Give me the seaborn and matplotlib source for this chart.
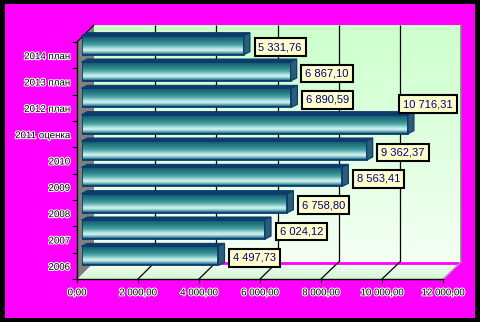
import numpy as np
import pandas as pd
import matplotlib
matplotlib.use("Agg")
import matplotlib.pyplot as plt
import seaborn as sns
from matplotlib.patches import Polygon, Rectangle
from matplotlib.lines import Line2D
from matplotlib.colors import LinearSegmentedColormap
from matplotlib.transforms import IdentityTransform
import matplotlib.patheffects as pe

categories = ["2014 план", "2013 план", "2012 план", "2011 оценка", "2010",
              "2009", "2008", "2007", "2006"]
values = [5331.76, 6867.10, 6890.59, 10716.31, 9362.37, 8563.41, 6758.80, 6024.12, 4497.73]
x_ticks = [0, 2000, 4000, 6000, 8000, 10000, 12000]
x_max = 12000


def fmt(v):
    return f"{v:,.2f}".replace(",", " ").replace(".", ",")


sns.set_style("white")
plt.rcParams['font.family'] = ['Liberation Sans', 'DejaVu Sans']

W, H = 480, 322
DPI = 100
fig = plt.figure(figsize=(W / DPI, H / DPI), dpi=DPI)
fig.patch.set_facecolor('black')


def fx(px):
    return px / W


def fy(py):
    return (H - py) / H


fig.add_artist(Rectangle((fx(5), fy(318)), fx(470), 314 / H, transform=fig.transFigure,
                         facecolor='#FF00FF', edgecolor='none', zorder=-10))

n = len(categories)
ylim = (n - 0.5, -0.5)
grad = np.linspace(0, 1, 256).reshape(-1, 1)

# ---- back wall ----
BL, BT, BR, BB = 94, 25, 461, 262
ax_back = fig.add_axes([fx(BL), fy(BB), fx(BR - BL), (BB - BT) / H], zorder=1)
wall_cmap = LinearSegmentedColormap.from_list('wall', ['#CCFFCC', '#F4FFF4'])
ax_back.imshow(grad, extent=[0, x_max, ylim[0], ylim[1]], origin='upper', aspect='auto',
               cmap=wall_cmap, interpolation='bilinear')
ax_back.set_xlim(0, x_max)
ax_back.set_ylim(ylim)
ax_back.vlines(x_ticks[1:-1], ylim[1], ylim[0], colors='black', linewidth=0.9)
ax_back.set_xticks([])
ax_back.set_yticks([])
for s in ['top', 'left', 'bottom']:
    ax_back.spines[s].set_visible(False)
ax_back.spines['right'].set_color('#808080')
ax_back.spines['right'].set_linewidth(1.2)

# ---- front plane (axis, ticks, labels) ----
FL, FT, FR, FB = 77, 42, 443, 279
ax_front = fig.add_axes([fx(FL), fy(FB), fx(FR - FL), (FB - FT) / H], zorder=3)
ax_front.patch.set_alpha(0)
ax_front.set_xlim(0, x_max)
ax_front.set_ylim(ylim)

# ---- floor ----
depth_x = BL - FL
ax_floor = fig.add_axes([fx(FL), fy(FB), fx(BR - FL), (FB - BB) / H], zorder=1.2)
ax_floor.axis('off')
ax_floor.set_xlim(0, 1)
ax_floor.set_ylim(0, 1)
floor_cmap = LinearSegmentedColormap.from_list('floor', ['#FAFFFA', '#D2F6D2'])
fim = ax_floor.imshow(grad, extent=[0, 1, 0, 1], origin='upper', aspect='auto',
                      cmap=floor_cmap, interpolation='bilinear')
fr = depth_x / (BR - FL)
fpoly = Polygon([(0, 0), (fr, 1), (1, 1), (1 - fr, 0)], closed=True, transform=ax_floor.transData,
                facecolor='none', edgecolor='none')
ax_floor.add_patch(fpoly)
fim.set_clip_path(fpoly)

# magenta back edge of the floor
fig.add_artist(Line2D([fx(BL), fx(BR)], [fy(BB + 0.5), fy(BB + 0.5)], transform=fig.transFigure,
                      color='#FF00FF', linewidth=2.0, zorder=1.25, solid_capstyle='butt'))

# diagonal floor lines
for t in x_ticks[1:]:
    p_front = ax_front.transData.transform((t, ylim[0]))
    p_back = ax_back.transData.transform((t, ylim[0]))
    col = 'black' if t < x_max else '#A0A0A0'
    fig.add_artist(Line2D([p_front[0], p_back[0]], [p_front[1], p_back[1]],
                          transform=IdentityTransform(), color=col, linewidth=0.9, zorder=1.3))

# left wall
fig.add_artist(Polygon([(fx(FL), fy(FB)), (fx(FL), fy(FT)), (fx(BL), fy(BT)), (fx(BL), fy(BB))],
                       closed=True, transform=fig.transFigure, facecolor='#808080',
                       edgecolor='none', zorder=1.4))
fig.add_artist(Line2D([fx(FL), fx(BL)], [fy(FT), fy(BT)], transform=fig.transFigure,
                      color='black', linewidth=0.8, zorder=1.45))

# ---- bars ----
ML, MR, MT, MB = 81.5, 447, 32, 269
ax_mid = fig.add_axes([fx(ML), fy(MB), fx(MR - ML), (MB - MT) / H], zorder=2)
ax_mid.patch.set_alpha(0)
df = pd.DataFrame({'category': categories, 'value': values})
sns.barplot(data=df, x='value', y='category', order=categories, orient='h', width=0.72,
            color='#2E8B8B', edgecolor='#0B3C6E', linewidth=1.3, ax=ax_mid, zorder=2)
ax_mid.set_xlim(0, x_max)
ax_mid.set_ylim(ylim)
ax_mid.axis('off')

bar_cmap = LinearSegmentedColormap.from_list('bar', [
    (0.0, '#164F6E'), (0.12, '#1E6878'), (0.3, '#2A8588'), (0.48, '#4FA6A8'),
    (0.62, '#9ED6D6'), (0.74, '#DDF4F4'), (0.84, '#86C6C8'), (0.93, '#2F7E8C'),
    (1.0, '#164F6E')])
navy = '#0B3C6E'
dx, dy = 6, 3
for p in list(ax_mid.patches):
    x0, y0, w, h = p.get_x(), p.get_y(), p.get_width(), p.get_height()
    im = ax_mid.imshow(grad, extent=[x0, x0 + w, y0 + h, y0], origin='upper', aspect='auto',
                       cmap=bar_cmap, interpolation='bilinear', zorder=1.5)
    im.set_clip_path(p)
    p.set_facecolor('none')
    (ax0, ay_top), (ax1, ay_bot) = ax_mid.transData.transform([(x0, y0), (x0 + w, y0 + h)])
    # top face
    ax_mid.add_patch(Polygon([(ax0, ay_top), (ax0 + dx, ay_top + dy), (ax1 + dx, ay_top + dy), (ax1, ay_top)],
                             closed=True, transform=IdentityTransform(), facecolor=navy,
                             edgecolor=navy, linewidth=0.8, zorder=3, clip_on=False))
    # end cap
    ax_mid.add_patch(Polygon([(ax1, ay_top), (ax1 + dx, ay_top + dy), (ax1 + dx, ay_bot + dy), (ax1, ay_bot)],
                             closed=True, transform=IdentityTransform(), facecolor='#2C5E7A',
                             edgecolor=navy, linewidth=0.9, zorder=3, clip_on=False))
ax_mid.set_xlim(0, x_max)
ax_mid.set_ylim(ylim)

# value labels
for i, v in enumerate(values):
    if v / x_max > 0.85:
        off, ha = (32.4, 14.3), 'right'
    else:
        off, ha = (10.5, -1.5), 'left'
    ax_mid.annotate(fmt(v), xy=(v, i), xytext=off, textcoords='offset points', ha=ha, va='center',
                    fontsize=8, color='#000080', annotation_clip=False, zorder=6,
                    bbox=dict(boxstyle='square,pad=0.35', facecolor='#FFFFCC', edgecolor='black',
                              linewidth=1.5))

# front axis styling
for s in ['top', 'right']:
    ax_front.spines[s].set_visible(False)
for s in ['left', 'bottom']:
    ax_front.spines[s].set_color('black')
    ax_front.spines[s].set_linewidth(1.0)
ax_front.set_xticks(x_ticks)
ax_front.set_xticklabels([fmt(t) for t in x_ticks])
ax_front.set_yticks(range(n))
ax_front.set_yticklabels(categories)
ax_front.set_yticks(np.arange(-0.5, n, 1.0), minor=True)
ax_front.tick_params(axis='x', which='major', bottom=True, length=3, width=0.8, color='black',
                     direction='out', pad=3, labelsize=7, labelcolor='black')
ax_front.tick_params(axis='y', which='major', left=False, length=0, pad=5, labelsize=7,
                     labelcolor='black')
ax_front.tick_params(axis='y', which='minor', left=True, length=3.6, width=0.8, color='black',
                     direction='out')
ax_front.set_xlabel('')
ax_front.set_ylabel('')
for lab in ax_front.get_xticklabels() + ax_front.get_yticklabels():
    lab.set_path_effects([pe.withStroke(linewidth=1.5, foreground='white')])

fig.savefig('out.png', dpi=DPI, facecolor=fig.get_facecolor())
